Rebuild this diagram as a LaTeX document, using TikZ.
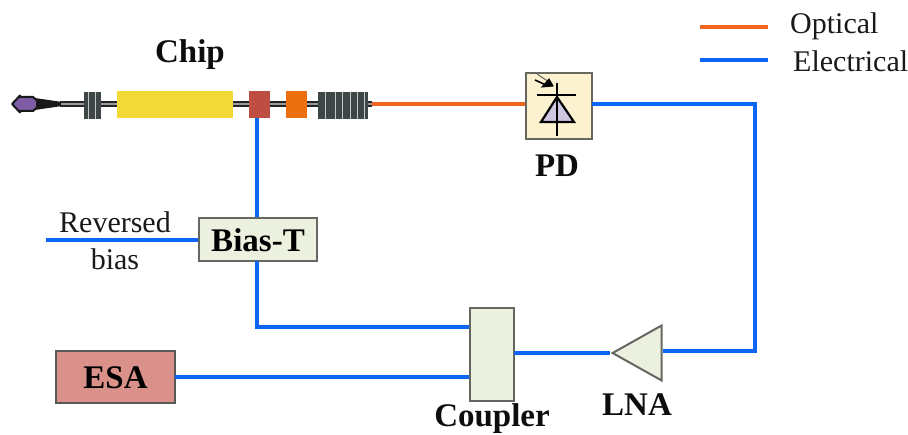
\documentclass[tikz,border=0pt]{standalone}
\usepackage{fontspec}
\setmainfont{Liberation Serif}
\usetikzlibrary{shapes.geometric}
\definecolor{elec}{HTML}{0B66F5}
\definecolor{opt}{HTML}{F0661E}
\definecolor{boxgreen}{HTML}{EBF0DF}
\definecolor{boxedge}{HTML}{666760}
\definecolor{pdfill}{HTML}{FDF2D0}
\definecolor{esafill}{HTML}{D9918A}
\definecolor{grat}{HTML}{3F4648}
\definecolor{tipfill}{HTML}{7E5CA6}
\definecolor{gainfill}{HTML}{F2D936}
\definecolor{safill}{HTML}{BE4E44}
\definecolor{phfill}{HTML}{EC7010}
\definecolor{diodefill}{HTML}{CFC6E0}
\tikzset{
  x=1pt,y=-1pt,
  wh/.style n args={2}{minimum width=#1pt,minimum height=#2pt},
  elecline/.style={draw=elec,line width=4.2pt},
  optline/.style={draw=opt,line width=3.6pt},
  pbox/.style={draw=boxedge,line width=2pt,fill=boxgreen,inner sep=0pt,anchor=north west},
  blabel/.style={font=\fontsize{33}{33}\selectfont\bfseries,inner sep=0pt,text=black!95},
  rlabel/.style={font=\fontsize{30}{30}\selectfont,inner sep=0pt,text=black!90},
  chipbox/.style={inner sep=0pt,anchor=north west},
  gratbar/.style={fill=grat,draw=none},
}
\begin{document}
\begin{tikzpicture}
\useasboundingbox (0,0) rectangle (908,435);
% waveguide
\coordinate (wgL) at (60,104);
\coordinate (wgR) at (372,104);
\draw[black!85,line width=6pt] (wgL) -- (wgR);
\draw[black!40,line width=2pt] (wgL) -- (wgR);
% taper and tip
\draw[line width=1.6pt,draw=black!90,fill=black!90] (36,99) -- (60,102.5) -- (60,105.5) -- (36,109) -- cycle;
\draw[line width=2pt,draw=black!90,fill=tipfill,line join=round]
  (12,104) -- (20,95.5) -- (20,97) -- (33,97) -- (37,100.5) -- (37,107.5) -- (33,111) -- (20,111) -- (20,112.5) -- cycle;
% gratings
\node[gratbar,chipbox,wh={17}{27}] (g1) at (84,92) {};
\foreach \x in {88,95}{\draw[white!70!grat,line width=.8pt] (\x,92) -- (\x,119);}
\node[gratbar,chipbox,wh={50}{27}] (g2) at (318,92) {};
\foreach \x in {325,335,342,350,357,364}{\draw[white!70!grat,line width=.8pt] (\x,92) -- (\x,119);}
% chip sections
\node[chipbox,fill=gainfill,wh={116}{27}] (gain) at (117,91) {};
\node[chipbox,fill=safill,wh={21}{27}] (sa) at (249,91) {};
\node[chipbox,fill=phfill,wh={21}{27}] (ph) at (286,91) {};
% boxes
\node[pbox,fill=pdfill,wh={66}{66}] (pd) at (525,72) {};
\node[pbox,wh={118}{43}] (bias) at (198,217.5) {\fontsize{33}{33}\selectfont\bfseries Bias-T};
\node[pbox,wh={44}{93}] (coup) at (469,307.5) {};
\node[pbox,fill=esafill,draw=black!65,wh={119}{52}] (esa) at (55,350.5) {\fontsize{33}{33}\selectfont\bfseries ESA};
\node[isosceles triangle,shape border rotate=180,isosceles triangle stretches,draw=boxedge,line width=2pt,fill=boxgreen,inner sep=0pt,wh={55}{49}] (lna) at (645.5,353) {};
% diode
\coordinate (dT) at (557,83);
\coordinate (dB) at (557,136);
\coordinate (dbarL) at (537,95);
\coordinate (dbarR) at (576,95);
\draw[black,line width=2.2pt,fill=diodefill,line join=miter] (557,97) -- (541,122) -- (574,122) -- cycle;
\draw[black,line width=2.2pt] (dT) -- (dB);
\draw[black,line width=2.2pt] (dbarL) -- (dbarR);
\draw[black!55,line width=1.2pt] (537,74) -- (552,84);
\draw[black,line width=1.6pt] (535,80) -- (546,85);
\draw[black,fill=black,line width=1pt] (553,86) -- (542,87) -- (549,79) -- cycle;
% connectors
\coordinate (saB) at (257,118);
\coordinate (biasT) at (257,217);
\coordinate (biasB) at (257,261);
\coordinate (biasIn) at (46,240);
\coordinate (coupL1) at (469,327);
\coordinate (coupL2) at (469,377);
\coordinate (coupR) at (514,353);
\coordinate (lnaR) at (663,351);
\coordinate (corner1) at (755,351);
\coordinate (corner2) at (755,104);
\coordinate (pdR) at (592,104);
\coordinate (pdL) at (525,104);
\coordinate (esaR) at (175,377);
\draw[elecline] (saB) -- (biasT);
\draw[elecline] (biasIn) -- (bias.west);
\draw[elecline] (biasB) |- (coupL1);
\draw[elecline] (esaR) -- (coupL2);
\draw[elecline] (coupR) -- (lna.apex);
\draw[elecline,line join=miter] (lnaR) -- (corner1) -- (corner2) -- (pdR);
\draw[optline] (wgR) -- (pdL);
% legend
\coordinate (l1a) at (700,27); \coordinate (l1b) at (768,27);
\coordinate (l2a) at (700,60); \coordinate (l2b) at (768,60);
\draw[optline] (l1a) -- (l1b);
\draw[elecline,line width=3.8pt] (l2a) -- (l2b);
% labels
\node[rlabel,anchor=west] (tOpt) at (790,26) {Optical};
\node[rlabel,anchor=west] (tEl) at (793,61) {Electrical};
\node[blabel] (tChip) at (190,55) {Chip};
\node[blabel] (tPD) at (557,166) {PD};
\node[blabel] (tCoup) at (492,419) {Coupler};
\node[blabel] (tLNA) at (637,405) {LNA};
\node[rlabel] (tRev) at (115,222) {Reversed};
\node[rlabel] (tB) at (115,259) {bias};
\end{tikzpicture}
\end{document}
